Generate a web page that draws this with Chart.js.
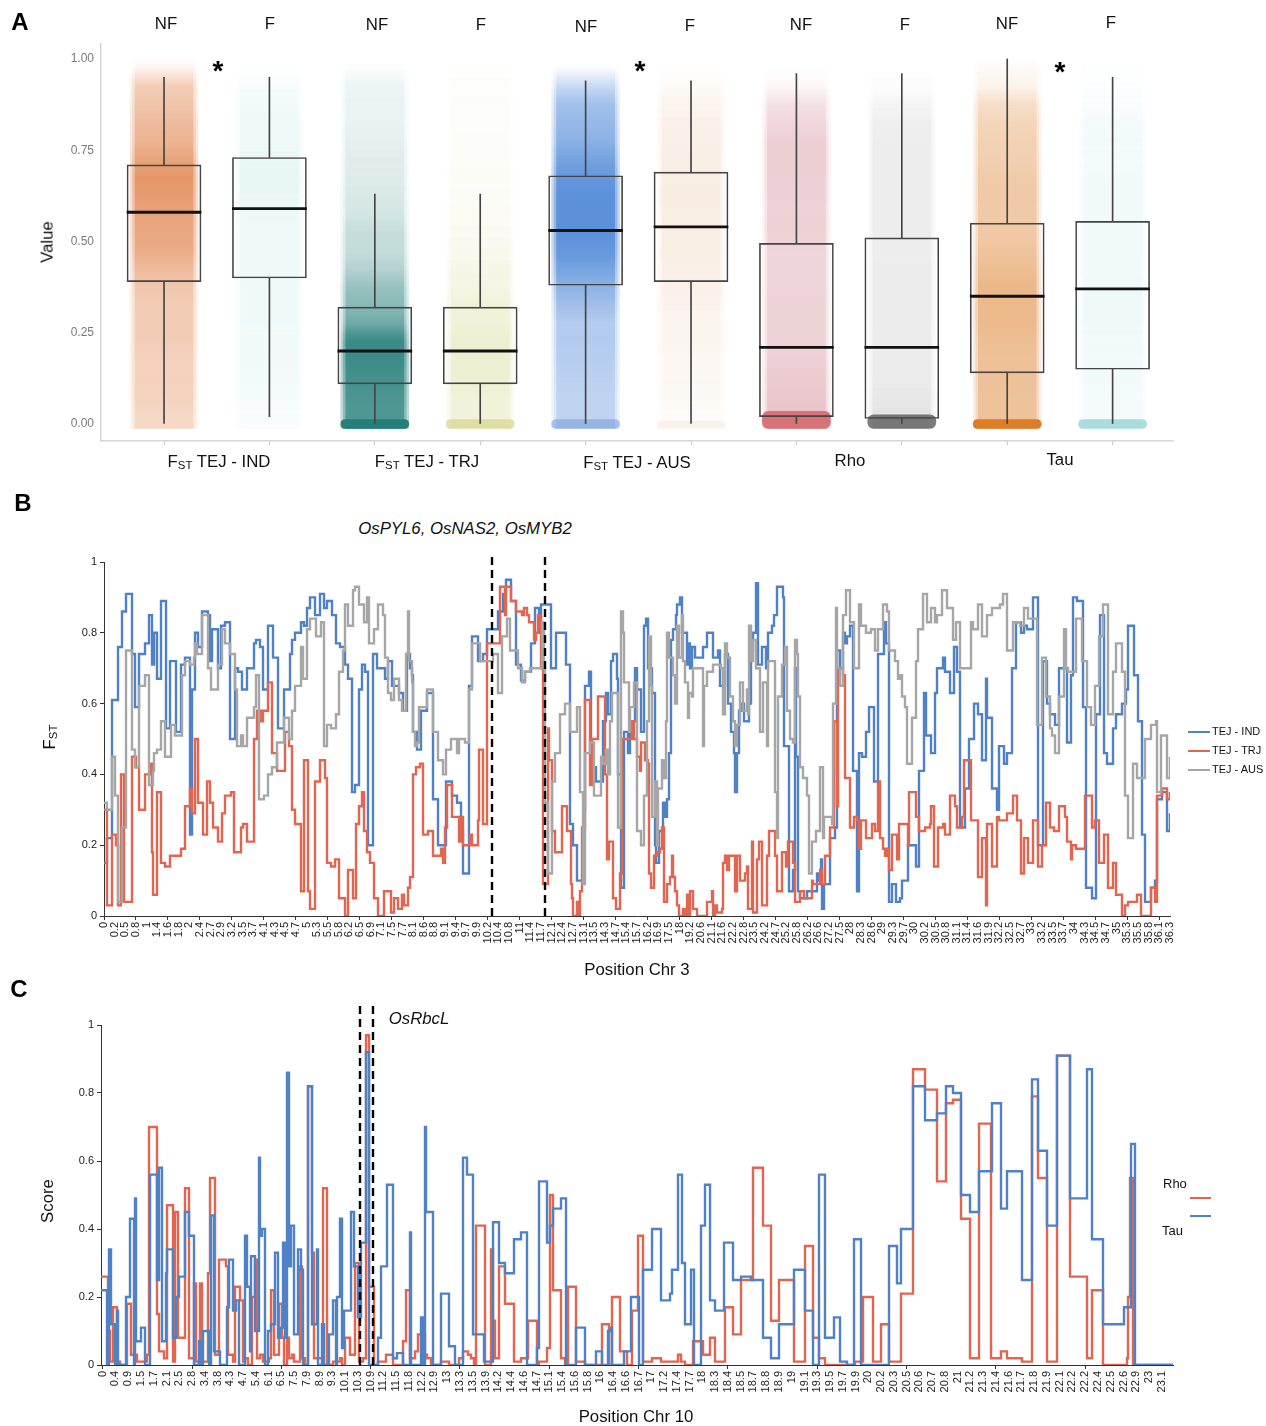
<!DOCTYPE html>
<html><head><meta charset="utf-8">
<script src="https://cdn.jsdelivr.net/npm/chart.js@4/dist/chart.umd.js"></script>
<style>
html,body{margin:0;padding:0;background:#fff;width:1266px;height:1426px;overflow:hidden}
body{position:relative;font-family:"Liberation Sans",Arial,sans-serif;color:#111}
canvas{position:absolute;left:0}
.t{position:absolute;white-space:nowrap;transform:translate(-50%,-50%);line-height:1}
.s{font-size:16.8px}.p{font-size:24px;font-weight:bold;color:#000}.a{font-size:28px;font-weight:bold;color:#000}
.r{transform:translate(-50%,-50%) rotate(-90deg)}
.i{font-style:italic}
sub{font-size:.68em;vertical-align:-.25em;line-height:0}
.sw{position:absolute;height:2px}
.l{position:absolute;white-space:nowrap;line-height:1}
</style></head><body>
<canvas id="ca" width="1266" height="470" style="top:0"></canvas>
<canvas id="cb" width="1266" height="420" style="top:545px"></canvas>
<canvas id="cc" width="1266" height="420" style="top:1000px"></canvas>

<div class="t p" style="left:20px;top:22px">A</div>
<div class="t p" style="left:23px;top:503px">B</div>
<div class="t p" style="left:19px;top:989px">C</div>

<div class="t s" style="left:166px;top:24px">NF</div><div class="t s" style="left:270px;top:24px">F</div>
<div class="t s" style="left:377px;top:25px">NF</div><div class="t s" style="left:481px;top:25px">F</div>
<div class="t s" style="left:586px;top:27px">NF</div><div class="t s" style="left:690px;top:26px">F</div>
<div class="t s" style="left:801px;top:25px">NF</div><div class="t s" style="left:905px;top:25px">F</div>
<div class="t s" style="left:1007px;top:24px">NF</div><div class="t s" style="left:1111px;top:23px">F</div>
<div class="t a" style="left:218px;top:71px">*</div><div class="t a" style="left:640px;top:71px">*</div><div class="t a" style="left:1060px;top:72px">*</div>
<div class="t s" style="left:219px;top:462px">F<sub>ST</sub> TEJ - IND</div>
<div class="t s" style="left:427px;top:462px">F<sub>ST</sub> TEJ - TRJ</div>
<div class="t s" style="left:637px;top:463px">F<sub>ST</sub> TEJ - AUS</div>
<div class="t s" style="left:850px;top:461px">Rho</div>
<div class="t s" style="left:1060px;top:460px">Tau</div>
<div class="t s r" style="left:48px;top:242px">Value</div>

<div class="t s i" style="left:465px;top:529px">OsPYL6, OsNAS2, OsMYB2</div>
<div class="t s r" style="left:50px;top:737px">F<sub>ST</sub></div>
<div class="t s" style="left:637px;top:970px">Position Chr 3</div>
<div class="sw" style="left:1188px;top:731px;width:22px;background:#4f81c7"></div><div class="l" style="left:1212px;top:726px;font-size:11px">TEJ - IND</div>
<div class="sw" style="left:1188px;top:750px;width:22px;background:#e2654f"></div><div class="l" style="left:1212px;top:745px;font-size:11px">TEJ - TRJ</div>
<div class="sw" style="left:1188px;top:769px;width:22px;background:#a6a6a6"></div><div class="l" style="left:1212px;top:764px;font-size:11px">TEJ - AUS</div>

<div class="t s i" style="left:419px;top:1019px">OsRbcL</div>
<div class="t s r" style="left:48px;top:1201px">Score</div>
<div class="t s" style="left:636px;top:1417px">Position Chr 10</div>
<div class="l" style="left:1163px;top:1177px;font-size:13px">Rho</div>
<div class="sw" style="left:1190px;top:1197px;width:21px;background:#e2654f"></div>
<div class="sw" style="left:1190px;top:1215px;width:21px;background:#4f81c7"></div>
<div class="l" style="left:1162px;top:1224px;font-size:13px">Tau</div>

<script>
// ---------- Panel A : box summaries ----------
const boxGroups = ['IND NF','IND F','TRJ NF','TRJ F','AUS NF','AUS F','Rho NF','Rho F','Tau NF','Tau F'];
const whiskLo = [0,.02,0,0,0,0,0,0,0,0];
const q1      = [.39,.40,.11,.11,.38,.39,.02,.015,.14,.15];
const median  = [.58,.59,.20,.20,.53,.54,.21,.21,.35,.37];
const q3      = [.71,.73,.32,.32,.68,.69,.495,.51,.55,.555];
const whiskHi = [.95,.95,.63,.63,.94,.94,.96,.96,1.0,.95];
const yTicksA = [0,.25,.5,.75,1];
const cloudRgb = ['222,122,62','150,212,212','35,125,120','205,205,120','55,120,210','225,175,130','200,110,125','120,120,120','222,135,55','150,212,212'];
// density of the jittered cloud per 0.05 band (bottom to top)
const cloudIndNF = [.32,.36,.38,.38,.42,.42,.42,.48,.62,.8,.85,.92,1.02,1.12,.9,.68,.62,.5,.42,.08];
const cloudIndF  = [.06,.1,.12,.13,.12,.14,.14,.14,.16,.16,.16,.17,.2,.22,.2,.15,.15,.13,.08,0];
const cloudTrjNF = [1.15,1.2,1.3,1.4,1.45,.85,.65,.55,.38,.28,.28,.2,.18,.16,.14,.12,.1,.1,.08,.02];
const cloudTrjF  = [.3,.3,.35,.38,.38,.3,.3,.2,.18,.13,.1,.08,.07,.06,.05,.05,.04,.04,.03,.01];
const cloudAusNF = [.35,.35,.38,.4,.42,.42,.55,.7,.9,1.1,1.2,1.2,1.2,1.1,.9,.72,.62,.55,.3,.02];
const cloudAusF  = [.05,.08,.1,.1,.12,.12,.15,.18,.2,.22,.22,.22,.24,.22,.22,.2,.18,.14,.06,0];
const cloudRhoNF = [.45,.42,.4,.35,.33,.33,.33,.32,.32,.32,.34,.34,.35,.36,.36,.36,.3,.22,.05,0];
const cloudRhoF  = [.2,.18,.15,.15,.14,.15,.14,.14,.14,.13,.13,.13,.13,.13,.13,.13,.12,.08,.02,0];
const cloudTauNF = [.6,.6,.62,.62,.65,.72,.72,.74,.66,.58,.52,.5,.52,.5,.44,.42,.38,.3,.1,.05];
const cloudTauF  = [.1,.1,.12,.12,.13,.15,.16,.15,.13,.12,.12,.12,.12,.12,.1,.12,.1,.06,.02,.01];
const clouds = [cloudIndNF,cloudIndF,cloudTrjNF,cloudTrjF,cloudAusNF,cloudAusF,cloudRhoNF,cloudRhoF,cloudTauNF,cloudTauF];
// pile of exact zeros at the bottom of each cloud
const zeroTop   = [0,0,.012,.012,.012,.008,.035,.025,.012,.012];
const zeroColor = ['rgba(0,0,0,0)','rgba(0,0,0,0)','rgba(35,125,120,.95)','rgba(205,205,120,.55)','rgba(110,150,215,.5)','rgba(225,175,130,.12)','rgba(215,110,115,.95)','rgba(60,60,60,.65)','rgba(222,125,40,1)','rgba(150,212,212,.8)'];

// ---------- Panel B : sliding-window FST, [window, value] where the value changes ----------
const labelsB = ['0','0.2','0.5','0.8','1','1.4','1.6','1.8','2','2.4','2.7','2.9','3.2','3.5','3.7','4.1','4.3','4.5','4.7','5','5.3','5.5','5.8','6.2','6.5','6.9','7.1','7.5','7.7','8.1','8.6','8.8','9.1','9.4','9.7','9.9','10.2','10.4','10.8','11','11.4','11.7','12.1','12.4','12.7','13.1','13.5','14.3','14.7','15.4','15.7','16.2','16.9','17.5','18','19.2','20.6','21.1','21.6','22.2','22.8','23.5','24.2','24.7','25.2','25.8','26.2','26.6','27.2','27.5','28','28.3','28.6','29','29.3','29.7','30','30.2','30.5','30.8','31.1','31.4','31.6','31.9','32.2','32.5','32.7','33','33.2','33.5','33.7','34','34.3','34.5','34.7','35','35.3','35.5','35.8','36.1','36.3'];
const tejInd = [[0,.15],[1.5,.22],[4,.61],[7,.76],[9,.86],[11,.91],[14,.74],[15.5,.59],[17.5,.74],[20.5,.77],[22.5,.85],[24,.71],[25,.8],[26.5,.67],[28.5,.89],[31,.53],[33,.72],[36,.52],[38.5,.71],[40.5,.73],[43,.23],[44,.64],[45.5,.8],[47,.76],[49,.86],[52,.85],[53,.72],[54,.81],[57,.7],[58.5,.82],[60.5,.83],[63,.5],[65.5,.7],[67,.69],[69,.64],[71.5,.7],[75,.77],[76,.78],[78,.76],[79.5,.64],[82,.82],[84.5,.73],[87,.53],[90,.64],[93,.74],[94,.78],[95.5,.8],[98.5,.83],[100,.82],[101.5,.87],[103,.9],[105.5,.85],[108,.91],[110,.87],[111.5,.89],[114,.85],[116,.77],[118,.76],[120.5,.71],[122,.67],[124,.35],[125.5,.37],[127.5,.64],[129,.71],[130.5,.69],[132,.2],
[134.5,.74],[136.5,.7],[140.5,.67],[142,.72],[144,.65],[147.5,.63],[149.5,.58],[151.5,.74],[153,.7],[154,.68],[154.5,.52],[156.5,.47],[158.5,.58],[161.5,.63],[164.5,.33],[167,.2],[171,.38],[174,.34],[176.5,.32],[178.5,.24],[179.5,.12],[182.5,.65],[184,.79],[187,.72],[189.5,.74],[191.5,.81],[197,.86],[199.5,.91],[201,.95],[203.5,.89],[206,.71],[208.5,.665],[210.5,.69],[213.5,.77],[215.5,.87],[217.5,.8],[218.5,.88],[223.5,.7],[226,.8],[231,.71],[233,.26],[234.5,.2],[236.5,.1],[240,.3],[240.5,.65],[242.5,.69],[243.5,.42],[246,.38],[249.5,.55],[251,.63],[252,.57],[253.5,.72],[254.5,.74],[256.5,.67],[257,.4],[258.5,.08],[260,.52],[262,.46],
[263,.55],[265.5,.7],[266.5,.64],[268.5,.52],[270,.82],[271,.84],[272,.7],[274,.63],[275.5,.2],[276,.15],[277.5,.24],[279.5,.32],[280.5,.28],[281.5,.33],[282.5,.46],[283.5,.78],[284.5,.81],[286,.85],[286.5,.88],[288,.9],[289,.8],[291.5,.71],[292,.77],[293,.7],[294,.76],[295.5,.73],[299.5,.76],[301.5,.8],[304.5,.73],[307,.75],[308,.65],[310.5,.74],[312,.6],[313.5,.52],[315,.46],[315.5,.35],[316.5,.46],[317.5,.58],[319,.6],[320,.55],[322.5,.6],[323.5,.75],[324.5,.8],[326,.94],[327,.71],[329,.76],[331,.7],[332,.8],[334,.82],[335,.85],[336.5,.93],[339.5,.9],[340,.48],[342.5,.07],[344.5,.13],[345.5,.7],[346,.45],[347,.07],[348,.05],[351.5,.07],[356.5,.12],[357,.1],[358.5,.16],[359,.02],[360,.09],[363,.22],[365.5,.25],[366.5,.75],[368,.7],[369.5,.8],[370.5,.77],[371.5,.79],[373,.82],[374.5,.41],[376.5,.07],[377.5,.46],[379,.45],[381,.52],[382.5,.59],[385,.38],[387,.74],[390,.83],[391,.77],[392.5,.04],[394,.09],[396,.04],
[398,.05],[399,.1],[402,.2],[406,.14],[407.5,.41],[410,.63],[411,.51],[413.5,.46],[415.5,.63],[416.5,.7],[419.5,.73],[420.5,.69],[423,.63],[425,.76],[426.5,.69],[428,.25],[430.5,.36],[432.5,.5],[435,.6],[437,.57],[439,.44],[441,.67],[441.5,.56],[444,.36],[446.5,.3],[447.5,.48],[450,.43],[451.5,.46],[454,.7],[456,.83],[458.5,.8],[460,.82],[461.5,.81],[464.5,.9],[467,.2],[469.5,.72],[471.5,.6],[473,.57],[475.5,.54],[477.5,.7],[481.5,.49],[483.5,.68],[484.5,.9],[486.5,.89],[489.5,.59],[491,.08],[494,.05],[496,.57],[498,.85],[500,.46],[501.5,.43],[504.5,.53],[506,.57],[509,.6],[511,.64],[512,.82],[515,.68],[517,.55],[519,.23],[520.5,.04],[523.5,.08],[525.5,.1],[526.5,.33],[529,.35],[531.5,.24],[533,.29]];
const tejTrj = [[0,.3],[1.5,.03],[4,.23],[6,.2],[7,.03],[8.5,.4],[10,.04],[14,.45],[16,.42],[17.5,.3],[20.5,.4],[23.5,.43],[24,.18],[24.5,.06],[26.5,.35],[28.5,.15],[30.5,.14],[33,.17],[38.5,.19],[40.5,.31],[43,.36],[44,.29],[45.5,.5],[47,.32],[49.5,.23],[51.5,.38],[53,.32],[54.5,.25],[57,.21],[59,.29],[60.5,.34],[63.5,.35],[65,.18],[68.5,.25],[69.5,.26],[71.5,.21],[75,.5],[76.5,.58],[78.5,.55],[79.5,.58],[82,.66],[84,.46],[86.5,.41],[90.5,.52],[92.5,.48],[94,.3],[95.5,.26],[98.5,.07],[100,.44],[102,.07],[103,.02],[105.5,.38],[108,.44],[110.5,.39],[111.5,.15],[113.5,.14],[115.5,.16],[117.5,.05],[120.5,0],[122,.13],[124.5,.05],[126,.26],[127.5,.31],
[129,.35],[130,.24],[131.5,.18],[133,.15],[135,.05],[137,0],[140,.07],[143.5,.01],[145,.05],[147,.02],[149,.06],[150,.03],[152,.08],[153,.11],[154.5,.4],[156,.42],[158,.43],[159.5,.23],[162,.24],[164.5,.17],[168.5,.19],[169.5,.15],[170.5,.25],[171.5,.37],[174,.28],[177.5,.21],[178.5,.28],[179.5,.2],[183,.23],[184,.2],[187,.27],[187.5,.47],[189.5,.26],[191.5,.77],[198,.93],[200.5,.85],[201,.93],[203.5,.89],[206,.86],[209,.85],[210,.87],[211.5,.85],[212.5,.83],[215,.78],[216,.8],[217,.85],[218.5,.7],[219.5,.09],[222,.53],[222.5,.44],[224,.24],[225.5,.18],[229,.31],[231.5,.24],[233.5,.09],[234,.05],[234.5,0],[236.5,.04],[237,0],[238,.07],[239,.25],[240.5,.61],[243,.37],[244,.5],[247,.62],[250.5,.4],[251.5,.16],[252.5,.21],[254.5,.05],[256,.02],[258,.12],[259,.5],[264,.55],[265,.5],
[266.5,.45],[268,.41],[268.5,.49],[270.5,.44],[272,.43],[272.5,.12],[273.5,.08],[275,.17],[276.5,.18],[278,.19],[279,.25],[280,.04],[281.5,.09],[283,.11],[284,.17],[284.5,.11],[285.5,.07],[286.5,.03],[287.5,0],[289.5,.02],[290.5,0],[291.5,.06],[292.5,0],[293,.07],[294.5,.02],[296.5,0],[301.5,.04],[304,.07],[304.5,0],[305.5,.03],[306.5,.01],[309,.02],[309.5,.15],[310.5,.17],[311.5,.13],[312.5,.17],[315.5,.07],[316.5,.17],[318,.1],[320.5,.12],[321.5,.14],[322,.02],[324,.21],[324.5,.01],[326.5,.16],[327.5,.21],[329,.03],[331.5,.17],[332.5,.24],[335.5,.17],[336.5,.07],[339,.18],[341,.14],[342,.21],[344.5,.15],[345.5,.04],[348,.07],[350,.05],[354,.1],[354.5,.09],[358,.13],[359,.09],[360.5,.17],[363,.25],[365,.55],[366.5,.31],[367,.7],[369.5,.68],[370.5,.39],[373,.25],[375,.28],[376.5,.27],[377.5,.19],[378.5,.27],[381,.22],[384,.26],[385.5,.24],[387,.38],[388,.22],[389.5,.19],[390.5,.17],[391.5,.19],[392.5,.13],[394,.23],[396.5,.16],[397.5,.26],
[402,.2],[402.5,.35],[406,.28],[407.5,.24],[410.5,.25],[413,.26],[413.5,.31],[415,.14],[417,.25],[419.5,.26],[420.5,.23],[423,.34],[425.5,.31],[426.5,.25],[429,.28],[430,.44],[433.5,.27],[437,.11],[439,.22],[441,.03],[441.5,.26],[444,.14],[446.5,.28],[447.5,.27],[451.5,.29],[454.5,.34],[456.5,.27],[458.5,.12],[460,.22],[462,.15],[464.5,.27],[467,.14],[469,.2],[471,.32],[473,.25],[475,.24],[477.5,.31],[480.5,.28],[481.5,.21],[483.5,.16],[484,.2],[486,.19],[490.5,.34],[494,.25],[495.5,.27],[497.5,.15],[500,.23],[502,.08],[504.5,.15],[506,.06],[509,0],[510.5,.03],[512,.04],[516.5,.06],[518.5,0],[523.5,.08],[525.5,.04],[526.5,.34],[529,.36],[531.5,.33],[533,.35]];
const tejAus = [[0,.32],[1.5,.3],[4,.45],[5.5,.34],[7,.04],[9,.25],[11,.75],[14,.47],[15.5,.42],[17.5,.65],[20.5,.68],[22.5,.37],[24.5,.41],[25,.46],[26.5,.47],[28.5,.55],[30.5,.45],[33.5,.54],[35.5,.51],[39,.68],[40.5,.72],[43,.71],[45,.73],[45.5,.77],[46.5,.74],[49,.85],[52,.7],[53.5,.64],[57,.71],[59,.81],[60.5,.77],[63,.74],[65.5,.64],[66.5,.48],[68.5,.51],[69.5,.48],[71.5,.56],[75,.59],[76,.68],[77.5,.33],[80,.34],[82,.4],[84,.42],[86.5,.49],[90,.56],[92.5,.5],[94,.58],[95.5,.65],[98.5,.76],[99.5,.67],[101.5,.81],[103,.84],[106,.79],[108.5,.83],[110,.48],[111.5,.54],[113.5,.53],[116,.57],[117.5,.69],[119.5,.75],[120.5,.88],[122,.82],[124.5,.92],[125.5,.93],[127.5,.88],
[130,.83],[131.5,.9],[132.5,.77],[135,.81],[137,.88],[139.5,.85],[140.5,.73],[142,.63],[143.5,.61],[145,.67],[147.5,.61],[149,.58],[151,.74],[152,.86],[152.5,.72],[154,.66],[154.5,.52],[155.5,.48],[156.5,.49],[157.5,.59],[161.5,.64],[164.5,.52],[167,.44],[169.5,.4],[171,.47],[173.5,.5],[176.5,.46],[177.5,.5],[180.5,.49],[182.5,.64],[184,.77],[188,.72],[194.5,.74],[197,.63],[199,.79],[201.5,.84],[203,.75],[207,.7],[209,.66],[210.5,.69],[213,.7],[219,.83],[220,.7],[220.5,.32],[222,.12],[224,.38],[225.5,.46],[228,.57],[230.5,.6],[233,.52],[236.5,.59],[238,.35],[239.5,.09],[240.5,.46],[243,.49],[245,.34],[248.5,.45],[249.5,.43],[251,.47],[252,.4],[253,.55],[254,.63],[257,.25],[258.5,.86],[259.5,.8],[260,.66],[262.5,.52],
[263,.59],[265,.66],[266.5,.24],[268.5,.2],[270,.34],[271.5,.55],[272.5,.79],[273.5,.65],[274,.28],[275.5,.38],[276.5,.2],[277,.36],[279,.44],[280,.39],[281,.55],[281.5,.8],[282.5,.73],[284.5,.68],[285.5,.6],[286.5,.82],[287.5,.73],[289,.85],[289.5,.72],[290.5,.66],[292,.56],[292.5,.63],[294,.62],[294.5,.7],[299.5,.48],[300,.65],[301.5,.69],[304.5,.71],[308.5,.7],[309.5,.57],[310.5,.77],[311.5,.73],[313,.62],[314.5,.55],[315.5,.48],[316.5,.54],[318,.66],[319.5,.58],[321.5,.64],[322,.57],[322.5,.82],[323.5,.72],[324.5,.78],[326,.7],[328,.52],[329.5,.66],[331.5,.48],[332,.72],[335.5,.35],[336.5,.22],[337,.62],[339,.71],[340.5,.76],[341.5,.58],[343,.5],[344.5,.49],[345.5,.78],[346.5,.74],[347,.62],[348,.42],[349.5,.39],[351.5,.34],[352.5,.12],[354,.21],[356,.24],[358,.42],[359.5,.22],[360,.28],[364,.26],[364.5,.6],[366,.87],[366.5,.7],[368,.65],[369.5,.85],[371,.92],[373,.83],[375,.7],[377.5,.88],[378.5,.82],[381,.8],[383.5,.81],[385.5,.75],[387,.81],[389.5,.88],[391.5,.86],[392.5,.75],[395.5,.72],[397,.67],
[398,.68],[399,.62],[400.5,.59],[401.5,.43],[404,.56],[406,.72],[407,.81],[409.5,.91],[411.5,.83],[413.5,.87],[415.5,.83],[416.5,.85],[419,.92],[421.5,.87],[424.5,.78],[426,.83],[428,.7],[433.5,.83],[434.5,.81],[437,.88],[439,.79],[441.5,.85],[444,.87],[448,.88],[449.5,.91],[451.5,.75],[454.5,.83],[458,.82],[460,.87],[462,.84],[466.5,.54],[469,.73],[471,.62],[473,.53],[474,.51],[475.5,.46],[477.5,.62],[480,.81],[481,.7],[482,.69],[486,.84],[489,.72],[491.5,.59],[493.5,.54],[495.5,.65],[497.5,.79],[499.5,.88],[502,.57],[504.5,.69],[506,.77],[509,.69],[510.5,.34],[512,.22],[514.5,.43],[516.5,.39],[520.5,.5],[523.5,.54],[526,.55],[526.5,.35],[528.5,.51],[531.5,.39],[533,.45]];
const markersB = [194,220.5];

// ---------- Panel C : sliding-window scores ----------
const labelsC = ['0','0.4','0.9','1.5','1.7','2.1','2.5','2.8','3.4','3.8','4.3','4.7','5.4','6.1','6.5','7.5','7.9','8.9','9.3','10.1','10.3','10.9','11.2','11.5','11.8','12.2','12.9','13','13.3','13.5','13.9','14.2','14.4','14.6','14.7','15.1','15.4','15.6','15.8','16','16.4','16.6','16.7','17','17.2','17.4','17.7','18','18.3','18.4','18.5','18.7','18.8','18.9','19','19.1','19.3','19.5','19.7','19.9','20','20.2','20.3','20.5','20.6','20.7','20.8','21','21.2','21.3','21.4','21.6','21.7','21.8','21.9','22.1','22.2','22.2','22.4','22.5','22.6','22.9','23','23.1'];
const rho = [[0,.26],[3.5,.1],[4.5,.01],[6,.17],[8,.01],[9.5,0],[13,.18],[15,.03],[18,.01],[23,.03],[24,.7],[28,.15],[29,.04],[31.5,.02],[33,.47],[36,.01],[37,.45],[38.5,.08],[42,.52],[44,.02],[46.5,.24],[47.5,.01],[49.5,.24],[50.5,.01],[53.5,.27],[54.5,.55],[57,.03],[59,.31],[62.5,.29],[63.5,.03],[66,.01],[67,.23],[69.5,.19],[71,.01],[72,.02],[73.5,0],[75.5,.2],[77,.31],[78,.02],[79.5,.03],[81,.01],[84,.02],[85,.22],[86.5,.03],[89,.18],[90.5,.08],[91.5,0],[93,.08],[94,.02],[95.5,.03],[96.5,.01],[99.5,.29],[100.5,.02],[102,0],[103.5,.82],[105.5,.33],[106.5,.02],[111,.52],[113,0],[116,.01],[119.5,.02],[120.5,0],[122,.08],[124.5,.03],[127,.3],[129,.01],[131,.02],[132.5,.97],[134,.23],[136.5,0],[138.5,.01],[142.5,.03],
[146,0],[151,.07],[152.5,.22],[154.5,.02],[157,.04],[158.5,.09],[162,.03],[163,.02],[165,0],[170,.01],[174,0],[179,.02],[181,.04],[183.5,.03],[185,.02],[186.5,0],[187.5,.41],[192,0],[195,.34],[196,.13],[197,.02],[199,.29],[202,.18],[206.5,.01],[210,.02],[213.5,.13],[218,0],[219,.01],[223,.05],[224.5,.5],[226,.22],[230,.02],[232,0],[233.5,.23],[237.5,.01],[242,0],[250.5,.12],[254,0],[255.5,.2],[259.5,.04],[263,0],[265.5,.16],[268.5,.38],[271,.01],[275.5,.02],[280,.01],[288.5,.03],
[290,.01],[292,0],[296,.07],[301,.03],[304.5,.08],[307,.01],[312,.17],[316,.09],[320,.25],[326,.58],[331,.41],[335,.13],[339,.25],[346.5,.01],[352,.35],[356,.08],[359,.02],[362,0],[377,.01],[381,.2],[386,.01],[390,.12],[394,.01],[400,.21],[406,.87],[412,.81],[418,.54],[422.5,.77],[426,.78],[430,.43],
[434.5,.02],[439,.71],[445,.02],[450,.04],[453,.02],[460.5,.01],[465.5,.79],[468.5,.55],[473,.01],[478,.91],[484.5,.26],[493,.02],[495.5,.22],[501,0],[513,.02],[513.5,.2],[514.5,.55],[516,0],[536,0]];
const tau = [[0,.22],[3,0],[4,.34],[5,.12],[7,0],[8,.16],[8.5,0],[12.5,.2],[14.5,.43],[16.5,0],[17,.49],[17.5,.07],[20,.11],[22,0],[24.5,.56],[28,.25],[29,.58],[30.5,.07],[32.5,.27],[33,.34],[36,.08],[37.5,.2],[39,.26],[42,.45],[44,.38],[46.5,0],[49,.07],[50,0],[51,.1],[54,0],[55,.44],[56.5,.04],[59.5,0],[63,.17],[64,.31],[66,.16],[67.5,.19],[69,0],[72,.38],[73,.23],[74.5,.04],[75,.32],[77,.1],[79,.61],[79.5,.38],[80.5,.4],[82,0],[83.5,.1],[85,.12],[87,.33],[88.5,.08],[89.5,.11],[91,.36],[92,.08],[93,.86],[94,.29],[95,.41],[96.5,.09],[98.5,.34],[100,.28],[101,0],[103.5,.82],[105.5,.12],[108,.34],[108.5,0],[110.5,.12],[111.5,0],[114,.09],[116,.19],[117.5,0],[118,.2],[119.5,.43],[120.5,.05],[121.5,.16],[125,.45],[126.5,.29],[128.5,.14],[130,.36],[132.5,.92],[134,0],[138.5,.08],[140,.29],
[143,.53],[146,.02],[148,.035],[151,0],[154.5,.39],[155,0],[160,.14],[161,0],[162,.7],[162.5,.45],[166,0],[170,.21],[174,.055],[177,0],[181,.61],[183,.56],[186,.09],[191.5,.01],[196,.42],[199,.3],[202,.27],[206.5,.37],[210,.39],[213,0],[218,.05],[219,.54],[223,.36],[224.5,.41],[226,.46],[230,.49],[232.5,0],[237.5,.11],[242,0],[247.5,.04],[250.5,0],[253.5,.1],[255,.11],[255.5,0],[261.5,.04],[265,.2],[269,0],[271,.28],[275.5,.4],[280,.19],[284.5,.21],
[285.5,.28],[288.5,.56],[290.5,.3],[292,.12],[295,.28],[296.5,0],[300,.41],[302,.53],[304.5,.19],[307,.16],[311.5,.36],[316,.25],[320,.26],[325,.25],[331,.08],[335,.02],[339,.12],[346.5,.28],[352,.16],[356,0],[359,.56],[362,.08],[366.5,.14],[369.5,.01],[373,0],[376.5,.37],[380,0],[394,.35],[398,.24],[400,.4],[406,.82],[412,.72],[418,.74],[422.5,.82],[426,.8],[430,.5],
[434.5,.45],[439,.57],[445.5,.77],[450,.46],[453,.57],[460.5,.25],[465.5,.84],[468.5,.63],[473,.41],[478,.91],[484.5,.49],[493,.87],[495.5,.37],[501,.12],[511.5,.17],[515,.65],[517,0],[536,0]];
const markersC = [129.5,136];

const BLUE='#4f81c7', RED='#e2654f', GREY='#a6a6a6', FONT='"Liberation Sans",Arial,sans-serif';
Chart.defaults.font.family = FONT;
Chart.defaults.animation = false;
const offPlugins = {legend:{display:false},tooltip:{enabled:false}};
const setTicks = vals => s => { s.ticks = vals.map(v=>({value:v})); };

// --- Panel A
const aDatasets = [];
const floatBars = (lo,hi) => boxGroups.map((_,i)=>({x:i,y:[lo[i],hi[i]]}));
const barBase = {type:'bar',grouped:false,categoryPercentage:1,barPercentage:1};
const CLOUD_LO=-.012, CLOUD_HI=1;
const cloudFill = k => ctx => {
  const i = ctx.dataIndex, ch = ctx.chart, ys = ch.scales && ch.scales.y;
  if (i===undefined || !ys || !ch.chartArea) return 'rgba(0,0,0,0)';
  const g = ch.ctx.createLinearGradient(0,ys.getPixelForValue(CLOUD_LO),0,ys.getPixelForValue(CLOUD_HI));
  const c = clouds[i], span = CLOUD_HI-CLOUD_LO;
  const al = a => Math.min(1,a*k);
  g.addColorStop(0,`rgba(${cloudRgb[i]},${al(c[0])})`);
  c.forEach((a,b)=>g.addColorStop(((b+.5)*.05-CLOUD_LO)/span,`rgba(${cloudRgb[i]},${al(a)})`));
  g.addColorStop(1,`rgba(${cloudRgb[i]},0)`);
  return g;
};
aDatasets.push({...barBase,maxBarThickness:74,backgroundColor:'#111',borderWidth:0,
  data:floatBars(median.map(v=>v-.003),median.map(v=>v+.003))});
aDatasets.push({...barBase,maxBarThickness:74,backgroundColor:'rgba(0,0,0,0)',borderColor:'#444',borderWidth:1,borderSkipped:false,
  data:floatBars(q1,q3)});
aDatasets.push({...barBase,maxBarThickness:1,backgroundColor:'#444',borderWidth:0,data:floatBars(whiskLo,q1)});
aDatasets.push({...barBase,maxBarThickness:1,backgroundColor:'#444',borderWidth:0,data:floatBars(q3,whiskHi)});
aDatasets.push({...barBase,maxBarThickness:68,backgroundColor:zeroColor,borderWidth:0,borderRadius:6,borderSkipped:false,
  data:boxGroups.map((_,i)=>({x:i,y:[zeroTop[i]>0?-.012:0,zeroTop[i]]}))});
[[58,.5],[63,.28],[68,.25]].forEach(([w,k])=>{
  aDatasets.push({...barBase,maxBarThickness:w,borderWidth:0,backgroundColor:cloudFill(k),
    data:boxGroups.map((_,i)=>({x:i,y:[CLOUD_LO,CLOUD_HI]}))});
});
new Chart(document.getElementById('ca'),{
  type:'bar',data:{datasets:aDatasets},
  options:{responsive:false,animation:false,layout:{padding:{left:0,right:93,top:44,bottom:0}},plugins:offPlugins,
    scales:{
      x:{type:'linear',offset:false,min:-.598,max:9.573,afterBuildTicks:setTicks(boxGroups.map((_,i)=>i)),
        afterFit:s=>{s.height=29},
        grid:{offset:false,drawOnChartArea:false,tickLength:4,tickColor:'#c9c9c9'},border:{color:'#d6d6d6',width:1.5},
        ticks:{display:false}},
      y:{min:-.0466,max:1.041,afterBuildTicks:setTicks(yTicksA),afterFit:s=>{s.width=101},
        grid:{drawOnChartArea:false,drawTicks:false},border:{color:'#d6d6d6',width:1.5},
        ticks:{padding:7,color:'#7a7a7a',font:{size:12},callback:v=>v.toFixed(2)}}
    }}
});

// --- Panels B and C
const pts = a => a.map(([x,y])=>({x,y}));
const stepLine = (label,arr,color) => ({type:'line',label,data:pts(arr),borderColor:color,borderWidth:2.4,pointRadius:0,stepped:true,fill:false});
const dashLine = (x,top) => ({type:'line',data:[{x,y:0},{x,y:top}],borderColor:'#000',borderWidth:2.4,borderDash:[8,5],pointRadius:0,clip:false,fill:false});
function lineChart(id,datasets,labels,maxX,spanStart,span,pad,tickEvery,axisH,yW){
  const tickVals = labels.map((_,i)=>spanStart+i*span);
  return new Chart(document.getElementById(id),{
    type:'line',data:{datasets},
    options:{responsive:false,animation:false,layout:{padding:pad},plugins:offPlugins,
      scales:{
        x:{type:'linear',min:0,max:maxX,afterBuildTicks:setTicks(tickVals),afterFit:s=>{s.height=axisH},
          grid:{drawOnChartArea:false,tickLength:4,tickColor:c=>c.index%tickEvery===0?'#333':'rgba(0,0,0,0)'},border:{color:'#333'},
          ticks:{autoSkip:false,maxRotation:90,minRotation:90,padding:2,color:'#222',font:{size:11},callback:(v,i)=>labels[i]}},
        y:{min:0,max:1,afterBuildTicks:setTicks([0,.2,.4,.6,.8,1]),afterFit:s=>{s.width=yW},
          grid:{drawOnChartArea:false,tickLength:4,tickColor:'#333'},border:{color:'#333'},
          ticks:{padding:3,color:'#222',font:{size:11},callback:v=>String(+v.toFixed(1))}}
      }}
  });
}
lineChart('cb',[...markersB.map(x=>dashLine(x,1.02)),stepLine('TEJ - AUS',tejAus,GREY),stepLine('TEJ - TRJ',tejTrj,RED),stepLine('TEJ - IND',tejInd,BLUE)],
  labelsB,533,0,5.33,{left:0,right:96,top:17,bottom:0},3,49,104);
lineChart('cc',[...markersC.map(x=>dashLine(x,1.056)),stepLine('Tau',tau,BLUE),stepLine('Rho',rho,RED)],
  labelsC,536,.85,6.38,{left:0,right:93,top:25,bottom:0},7,55,101);
</script>
</body></html>
